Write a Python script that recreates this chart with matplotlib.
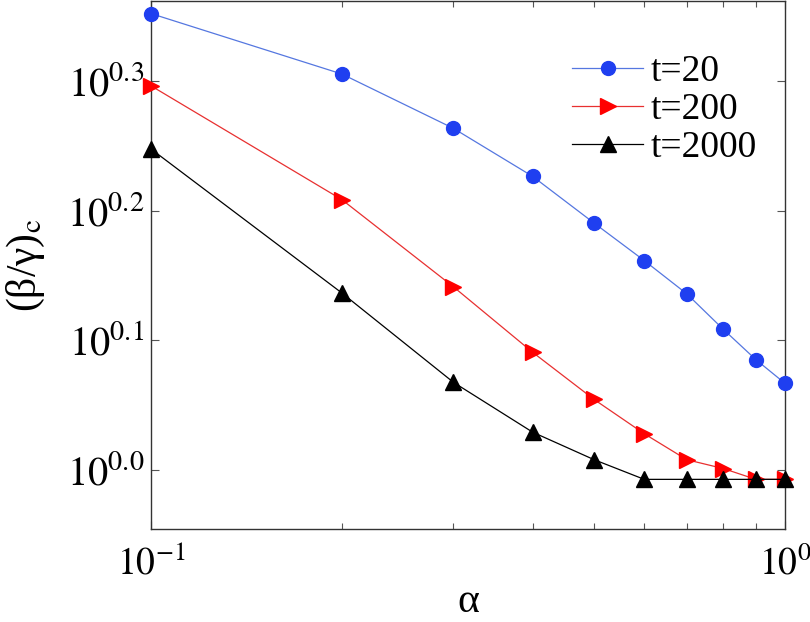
import matplotlib.pyplot as plt
import numpy as np

plt.rcParams["font.family"] = ["Liberation Serif", "DejaVu Serif"]
plt.rcParams["mathtext.fontset"] = "stix"

alpha = [0.1, 0.2, 0.3, 0.4, 0.5, 0.6, 0.7, 0.8, 0.9, 1.0]
t20 = [2.249, 2.020, 1.834, 1.684, 1.550, 1.450, 1.367, 1.283, 1.216, 1.166]
t200 = [1.978, 1.616, 1.384, 1.232, 1.133, 1.066, 1.018, 1.002, 0.983, 0.983]
t2000 = [1.768, 1.369, 1.168, 1.069, 1.018, 0.983, 0.983, 0.983, 0.983, 0.983]

ytick_exp = [0.0, 0.1, 0.2, 0.3]

fig = plt.figure(figsize=(8.1, 6.22), dpi=100)
ax = fig.add_axes([0.1864, 0.1495, 0.7826, 0.849])

ax.plot(alpha, t20, "-o", color="#5577e0", mfc="#1f3ff0", mec="#1f3ff0",
        lw=0.9, ms=10, label="t=20", clip_on=False, zorder=3)
ax.plot(alpha, t200, "->", color="#e83030", mfc="#ff0000", mec="#ff0000",
        lw=0.9, ms=11, label="t=200", clip_on=False, zorder=3)
ax.plot(alpha, t2000, "-^", color="black", lw=0.9, ms=11,
        label="t=2000", clip_on=False, zorder=3)

ax.set_xscale("log")
ax.set_yscale("log")
ax.set_xlim(0.1, 1.0)
ax.set_ylim(0.9, 2.3)

ax.set_xticks([0.1, 1.0])
ax.set_xticklabels([r"$10^{-1}$", r"$10^{0}$"])
ax.xaxis.set_minor_formatter(plt.NullFormatter())
ax.set_yticks([10 ** e for e in ytick_exp])
ax.set_yticklabels([r"$10^{%.1f}$" % e for e in ytick_exp])
ax.yaxis.set_minor_locator(plt.NullLocator())

ax.tick_params(which="both", direction="in", top=True, right=True,
               width=0.8, color="#555555")
ax.tick_params(which="major", length=6)
ax.tick_params(axis="y", pad=5, labelsize=29)
ax.tick_params(axis="x", pad=12, labelsize=27)
ax.tick_params(which="minor", length=4)
for s in ax.spines.values():
    s.set_linewidth(1.0)
    s.set_color("#333333")

ax.set_xlabel("α", fontsize=30, labelpad=0)
ax.set_ylabel("(β/γ)$_{\\mathrm{c}}$", fontsize=30, labelpad=14)

ax.legend(loc="upper right", bbox_to_anchor=(0.98, 0.927), frameon=False,
          fontsize=27, handlelength=1.9, labelspacing=0.1,
          handletextpad=0.2, borderaxespad=0.0)

fig.savefig("out.png", dpi=100)
